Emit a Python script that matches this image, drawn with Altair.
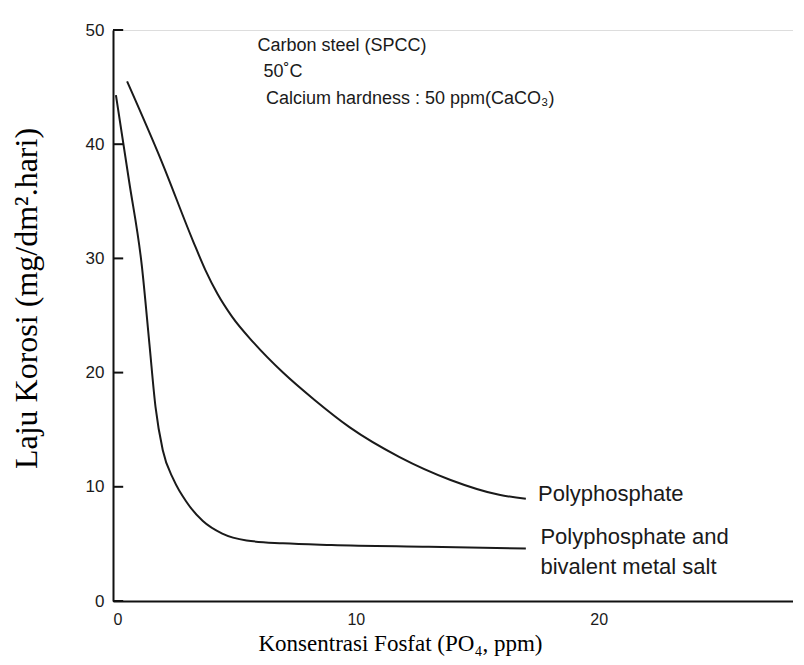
import altair as alt
import pandas as pd

# Curve: Polyphosphate
poly_x = [0.58, 2.0, 3.3, 3.8, 4.3, 4.9, 5.8, 7.0, 8.3, 9.75, 11.8, 13.9, 15.9, 17.0]
poly_y = [45.5, 38.5, 31.5, 29.0, 26.9, 24.9, 22.6, 20.0, 17.6, 15.2, 12.6, 10.6, 9.3, 8.95]

# Curve: Polyphosphate and bivalent metal salt
salt_x = [0.12, 0.66, 1.19, 1.5, 1.75, 2.05, 2.5, 3.05, 3.7, 4.5, 5.5, 7.0, 9.0, 13.0, 17.0]
salt_y = [44.3, 36.8, 29.3, 22.5, 17.0, 13.2, 10.6, 8.6, 7.0, 5.9, 5.3, 5.05, 4.9, 4.75, 4.6]

y_ticks = [0, 10, 20, 30, 40, 50]
x_ticks = [0, 10, 20]
tick_len = 0.42  # inward tick length in x units

top_text = ["Carbon steel (SPCC)", "50\u02daC", "Calcium hardness : 50 ppm(CaCO\u2083)"]
top_x = [5.95, 6.2, 6.3]
top_y = [48.6, 46.3, 44.0]

end_text = ["Polyphosphate", "Polyphosphate and", "bivalent metal salt"]
end_x = [17.5, 17.6, 17.6]
end_y = [9.4, 5.6, 3.0]

rows = [{"x": a, "y": b, "s": "Polyphosphate"} for a, b in zip(poly_x, poly_y)]
rows += [{"x": a, "y": b, "s": "Polyphosphate and bivalent metal salt"} for a, b in zip(salt_x, salt_y)]
curves = pd.DataFrame(rows)
ticks = pd.DataFrame({"y": [float(v) for v in y_ticks]})
ticks["x0"] = 0.0
ticks["x1"] = tick_len

top_df = pd.DataFrame({"t": top_text, "x": top_x, "y": top_y})
end_df = pd.DataFrame({"t": end_text, "x": end_x, "y": end_y})

xscale = alt.Scale(domain=[0, 28], nice=False, zero=False)
yscale = alt.Scale(domain=[0, 50], nice=False)

xaxis = alt.Axis(values=x_ticks, title="Konsentrasi Fosfat (PO\u2084, ppm)", grid=False,
                 ticks=False, labelPadding=10, labelFont="Liberation Sans", labelFontSize=16,
                 labelColor="#1a1a1a", domainColor="#111111", domainWidth=2,
                 titleFont="Liberation Serif", titleFontSize=23, titleFontWeight="normal",
                 titleColor="#000000", titleX=287, titleY=42, titleBaseline="middle",
                 titleAlign="center", titleAnchor="start")
yaxis = alt.Axis(values=y_ticks, title="Laju Korosi (mg/dm\u00b2.hari)", grid=False,
                 ticks=False, labelPadding=9, labelFont="Liberation Sans", labelFontSize=17,
                 labelColor="#1a1a1a", domainColor="#111111", domainWidth=2,
                 titleFont="Liberation Serif", titleFontSize=32, titleFontWeight="normal",
                 titleColor="#000000", titleX=-87, titleY=268, titleBaseline="middle",
                 titleAlign="center", titleAnchor="start", titleAngle=270)

lines = alt.Chart(curves).mark_line(color="#1a1a1a", strokeWidth=2, interpolate="monotone").encode(
    x=alt.X("x:Q", scale=xscale, axis=xaxis),
    y=alt.Y("y:Q", scale=yscale, axis=yaxis),
    detail="s:N",
)

tick_rules = alt.Chart(ticks).mark_rule(color="#111111", strokeWidth=2).encode(
    x=alt.X("x0:Q", scale=xscale), x2="x1:Q", y=alt.Y("y:Q", scale=yscale)
)

top_texts = alt.Chart(top_df).mark_text(align="left", baseline="middle", font="Liberation Sans",
                                        fontSize=18, color="#1a1a1a").encode(
    x=alt.X("x:Q", scale=xscale), y=alt.Y("y:Q", scale=yscale), text="t:N"
)

end_texts = alt.Chart(end_df).mark_text(align="left", baseline="middle", font="Liberation Sans",
                                        fontSize=22, color="#1a1a1a").encode(
    x=alt.X("x:Q", scale=xscale), y=alt.Y("y:Q", scale=yscale), text="t:N"
)

chart = alt.layer(lines, tick_rules, top_texts, end_texts).properties(
    width=680, height=571,
    autosize=alt.AutoSizeParams(type="none"),
    padding={"left": 105, "top": 22, "right": 0, "bottom": 56},
).configure_view(stroke=None).configure(background="white")

chart.save("out.html", embed_options={"renderer": "svg", "actions": False})
